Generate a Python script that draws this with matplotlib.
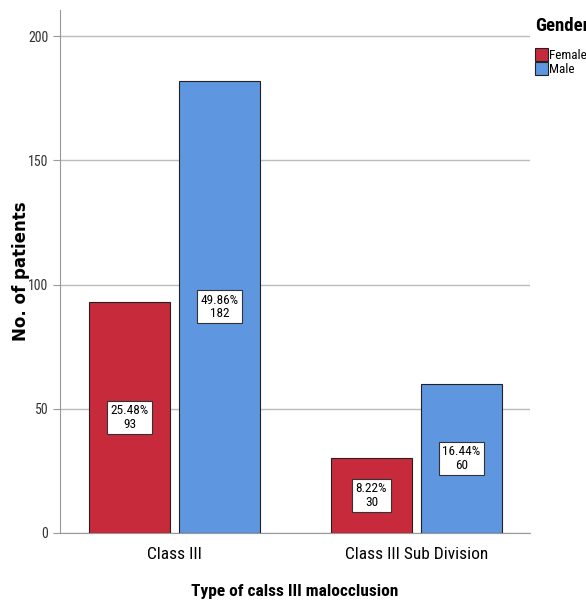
import matplotlib.pyplot as plt
import numpy as np
from matplotlib import font_manager

categories = ['Class III', 'Class III Sub Division']
female = [93, 30]
male = [182, 60]
female_pct = ['25.48%', '8.22%']
male_pct = ['49.86%', '16.44%']

red = '#C62A3B'
blue = '#5E96E0'

# narrow face for labels; DejaVu at a smaller size if no condensed face is around
installed = {f.name for f in font_manager.fontManager.ttflist}
if 'Roboto Condensed' in installed:
    narrow, k = 'Roboto Condensed', 1.0
else:
    narrow, k = 'DejaVu Sans', 0.78

fig = plt.figure(figsize=(5.86, 6.04), dpi=100)
ax = fig.add_axes([60 / 586, 71 / 604, 470 / 586, 523 / 604])

x = np.arange(len(categories))
w = 0.335
off = 0.186
ax.bar(x - off, female, width=w, color=red, edgecolor='#222222', linewidth=0.8,
       label='Female', zorder=3)
ax.bar(x + off, male, width=w, color=blue, edgecolor='#222222', linewidth=0.8,
       label='Male', zorder=3)

box = dict(boxstyle='square,pad=0.25', facecolor='white', edgecolor='#333333', linewidth=0.8)
for i in range(len(categories)):
    ax.text(x[i] - off, female[i] / 2, f'{female_pct[i]}\n{female[i]}', ha='center',
            va='center', fontsize=9.5 * k, family=narrow, linespacing=1.05,
            bbox=box, zorder=4)
    ax.text(x[i] + off, male[i] / 2, f'{male_pct[i]}\n{male[i]}', ha='center',
            va='center', fontsize=9.5 * k, family=narrow, linespacing=1.05,
            bbox=box, zorder=4)

ax.set_xlim(-0.473, 1.469)
ax.set_ylim(0, 210.5)
ax.set_yticks([0, 50, 100, 150, 200])
ax.set_xticks(x)
ax.set_xticklabels(categories, fontsize=12.5 * k, family=narrow)
ax.tick_params(axis='y', labelsize=10 * k, colors='#333333', length=5, color='#999999')
ax.tick_params(axis='x', length=0, pad=10)
for lab in ax.get_yticklabels():
    lab.set_family(narrow)
ax.yaxis.grid(True, color='#BBBBBB', linewidth=1.0, zorder=0)
ax.set_axisbelow(True)
for s in ['top', 'right']:
    ax.spines[s].set_visible(False)
ax.spines['left'].set_color('#999999')
ax.spines['bottom'].set_color('#999999')

ax.set_ylabel('No. of patients', fontsize=12, fontweight='bold', family='DejaVu Sans')
ax.yaxis.set_label_coords(-0.064, 0.50)
ax.set_xlabel('Type of calss III malocclusion', fontsize=12.5 * k, fontweight='bold',
              family=narrow, labelpad=16)

leg = ax.legend(loc='upper left', bbox_to_anchor=(535 / 586, 1 - 17 / 604),
                bbox_transform=fig.transFigure, frameon=False,
                title='Gender', prop={'size': 9.5 * k, 'family': narrow},
                handlelength=0.95, handleheight=1.2, handletextpad=0.1,
                borderpad=0, borderaxespad=0, labelspacing=0.0)
leg.get_title().set_fontweight('bold')
leg.get_title().set_fontsize(13.5 * k)
leg.get_title().set_family(narrow)
leg._legend_box.align = 'left'
leg._legend_box.sep = 9

fig.savefig('out.png', dpi=100)
